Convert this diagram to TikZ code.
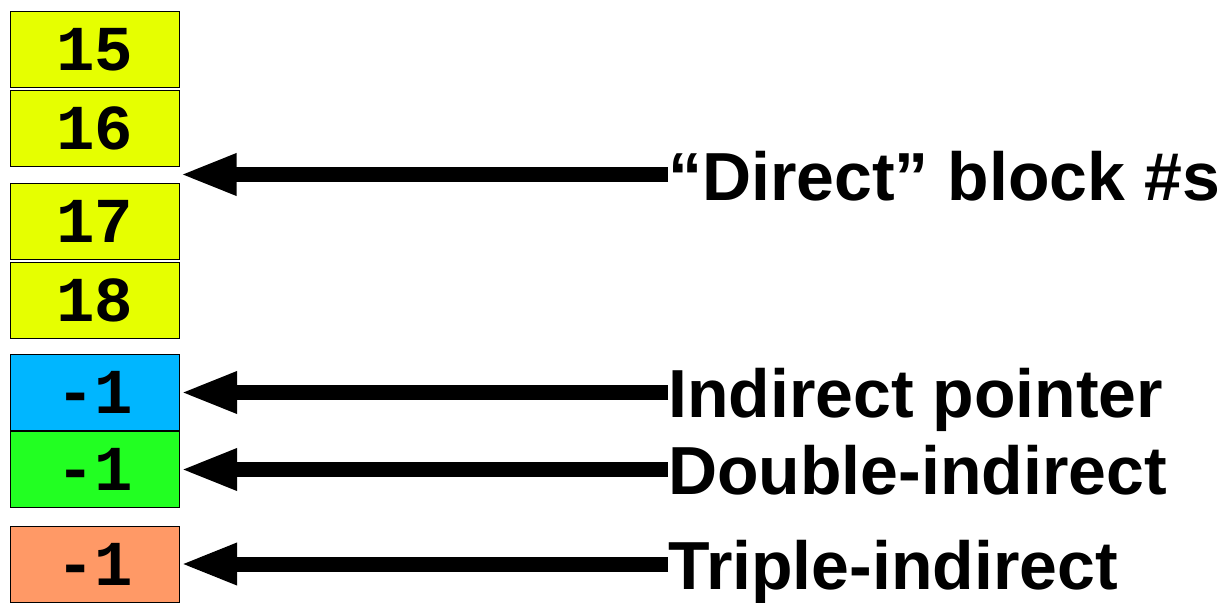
\documentclass[tikz,border=0pt]{standalone}
\usepackage{fontspec}
\setmainfont{Liberation Sans}
\setmonofont{Liberation Mono}
\usetikzlibrary{arrows.meta}
\definecolor{dirYel}{RGB}{230,255,0}
\definecolor{indBlue}{RGB}{0,182,255}
\definecolor{dblGreen}{RGB}{34,255,34}
\definecolor{triOrange}{RGB}{255,153,102}
\tikzset{
BLOCK/.style={draw=black,line width=1pt,fill=#1,minimum width=169pt,minimum height=76pt,inner sep=0pt,
  font=\fontsize{64}{64}\selectfont\ttfamily\bfseries},
BLOCK/.default=dirYel,
PTR/.style={line width=15pt,-{Triangle[length=57pt,width=38pt]}},
LABEL/.style={anchor=base west,inner sep=0pt,font=\fontsize{68}{68}\selectfont\bfseries},
}
\begin{document}
\begin{tikzpicture}[x=1pt,y=-1pt]
	\useasboundingbox (0,0) rectangle (1222,602);
	%inode block numbers
	\foreach \n/\y/\t/\c in {b15/49.5/15/dirYel, b16/128/16/dirYel, b17/221/17/dirYel, b18/300/18/dirYel,
		ind/392.5/-1/indBlue, dbl/469.5/-1/dblGreen, tri/564/-1/triOrange}
		\node[BLOCK=\c] (\n) at (95,\y) {\t};
	%labels
	\coordinate (gap) at (179.5,174.5);
	\node[LABEL] (ldir) at ([yshift=-26pt]gap -| 668,0) {“Direct” block \#s};
	\node[LABEL] (lind) at ([yshift=-25pt]ind.east -| 668,0) {Indirect pointer};
	\node[LABEL] (ldbl) at ([yshift=-25pt]dbl.east -| 668,0) {Double-indirect};
	\node[LABEL] (ltri) at ([yshift=-25pt]tri.east -| 668,0) {Triple-indirect};
	%pointers
	\draw[PTR] (ldir.base west |- gap) -- (gap);
	\draw[PTR] (lind.base west |- ind.east) -- (ind.east);
	\draw[PTR] (ldbl.base west |- dbl.east) -- (dbl.east);
	\draw[PTR] (ltri.base west |- tri.east) -- (tri.east);
\end{tikzpicture}
\end{document}
